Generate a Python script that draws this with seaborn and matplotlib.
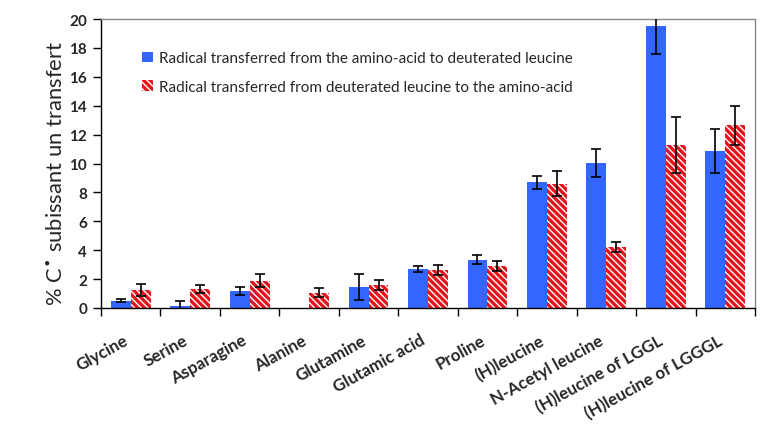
import matplotlib
matplotlib.use("Agg")
import matplotlib.pyplot as plt
import seaborn as sns
import pandas as pd
import numpy as np
from matplotlib.patches import Patch

categories = ["Glycine", "Serine", "Asparagine", "Alanine", "Glutamine",
              "Glutamic acid", "Proline", "(H)leucine", "N-Acetyl leucine",
              "(H)leucine of LGGL", "(H)leucine of LGGGL"]
series_names = ["Radical transferred from the amino-acid to deuterated leucine",
                "Radical transferred from deuterated leucine to the amino-acid"]
aa_to_leu = [0.5, 0.16, 1.2, 0.0, 1.47, 2.7, 3.35, 8.7, 10.03, 19.5, 10.86]
aa_to_leu_err = [0.1, 0.33, 0.28, 0.0, 0.9, 0.2, 0.3, 0.45, 0.95, 1.95, 1.55]
leu_to_aa = [1.22, 1.31, 1.87, 1.07, 1.61, 2.6, 2.9, 8.6, 4.22, 11.28, 12.66]
leu_to_aa_err = [0.42, 0.27, 0.45, 0.32, 0.35, 0.35, 0.35, 0.85, 0.33, 1.95, 1.35]
yticks = list(range(0, 21, 2))

blue = "#3366ff"
red = "#e3141c"

df = pd.DataFrame({
    "category": categories * 2,
    "series": [series_names[0]] * len(categories) + [series_names[1]] * len(categories),
    "value": aa_to_leu + leu_to_aa,
})

sns.set_theme(style="white")
plt.rcParams["font.family"] = ["Lato", "DejaVu Sans"]
plt.rcParams["mathtext.fontset"] = "dejavusans"
plt.rcParams["hatch.linewidth"] = 1.0

fig = plt.figure(figsize=(7.84, 4.31), dpi=100)
ax = fig.add_axes([101 / 784, 1 - 309 / 431, 654 / 784, 289 / 431])

sns.barplot(data=df, x="category", y="value", hue="series", order=categories,
            hue_order=series_names, palette=[blue, red], width=0.67,
            saturation=1, legend=False, ax=ax, errorbar=None)

errs = [aa_to_leu_err, leu_to_aa_err]
vals = [aa_to_leu, leu_to_aa]
bar_containers = list(ax.containers)
for i, cont in enumerate(bar_containers):
    xs = [p.get_x() + p.get_width() / 2 for p in cont.patches]
    for p in cont.patches:
        p.set_linewidth(0)
        if i == 1:
            p.set_edgecolor("white")
            p.set_hatch("\\\\\\\\\\")
    e = np.array(errs[i])
    v = np.array(vals[i])
    mask = e > 0
    ax.errorbar(np.array(xs)[mask], v[mask], yerr=e[mask], fmt="none",
                ecolor="black", elinewidth=1.2, capsize=3.5, capthick=1.2, zorder=5)

ax.set_ylim(0, 20)
ax.set_xlim(-0.5, len(categories) - 0.5)
ax.set_yticks(yticks)
ax.set_yticklabels([str(t) for t in yticks], fontsize=11, fontweight="bold")

ax.set_xticks(np.arange(-0.5, len(categories), 1.0))
ax.set_xticklabels([])
# labels anchored slightly left of each category centre (invisible minor ticks)
ax.set_xticks(np.arange(len(categories)) - 0.13, minor=True)
ax.set_xticklabels(categories, minor=True, rotation=29, ha="right",
                   rotation_mode="anchor", fontsize=12.2, fontweight="bold")
ax.tick_params(axis="x", which="major", direction="out", length=6, width=1, color="black", bottom=True)
ax.tick_params(axis="x", which="minor", length=0, pad=17, bottom=True)
ax.tick_params(axis="y", direction="out", length=6, width=1, color="black", left=True, pad=4)

ax.set_xlabel("")
ax.set_ylabel("% C$^{\\bullet}$ subissant un transfert", fontsize=15.8)
ax.yaxis.set_label_coords(-0.052, 0.47)

for side in ["left", "bottom"]:
    ax.spines[side].set_color("black")
    ax.spines[side].set_linewidth(1)
for side in ["top", "right"]:
    ax.spines[side].set_color("#888888")
    ax.spines[side].set_linewidth(1)
    ax.spines[side].set_visible(True)

handles = [Patch(facecolor=blue, edgecolor=blue, linewidth=0),
           Patch(facecolor=red, edgecolor="white", linewidth=0, hatch="\\\\\\\\\\")]
ax.legend(handles, series_names, loc="upper left", bbox_to_anchor=(0.063, 0.888),
          frameon=False, fontsize=11, borderpad=0, borderaxespad=0,
          handlelength=0.7, handleheight=0.7, handletextpad=0.4, labelspacing=0.95)

fig.savefig("out.png", dpi=100)
